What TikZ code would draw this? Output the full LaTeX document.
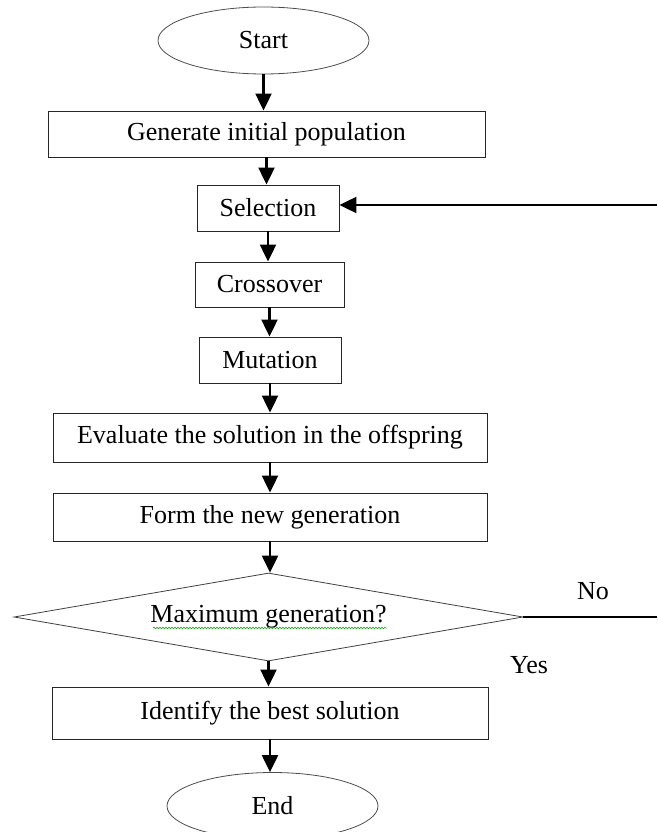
\documentclass[tikz,border=0pt]{standalone}
\usepackage{fontspec}
\setmainfont{Liberation Serif}
\usepackage{tikz}
\usetikzlibrary{shapes.geometric,arrows.meta,decorations.pathmorphing}

\begin{document}
\begin{tikzpicture}[x=1pt,y=-1pt,
    box/.style={draw=black!85, line width=0.9pt, rectangle, inner sep=0pt, font=\fontsize{26}{30}\selectfont},
    oval/.style={draw=black!70, line width=0.8pt, ellipse, inner sep=0pt, minimum width=211pt, minimum height=67pt, font=\fontsize{26}{30}\selectfont},
    arr/.style={-{Triangle[length=17pt,width=16pt]}, line width=2.2pt}]
    \useasboundingbox (0,0) rectangle (657,832);

    \node[oval] (start) at (263.5,40.5) {Start};
    \node[box, minimum width=437pt, minimum height=46pt] (gen) at (266.5,134) {Generate initial population};
    \node[box, minimum width=142pt, minimum height=46pt] (sel) at (268,208) {Selection};
    \node[box, minimum width=149pt, minimum height=45pt] (cross) at (269.5,284.5) {Crossover};
    \node[box, minimum width=142pt, minimum height=46pt] (mut) at (270,360) {Mutation};
    \node[box, minimum width=434pt, minimum height=49pt] (eval) at (270,437.5) {Evaluate the solution in the offspring};
    \node[box, minimum width=434pt, minimum height=48pt] (form) at (270,517) {Form the new generation};
    \node[draw=black!75, line width=0.8pt, diamond, inner sep=0pt, aspect=5.8,
          minimum width=509pt, minimum height=88pt, font=\fontsize{26}{30}\selectfont] (max) at (268.5,617) {Maximum generation?};
    \node[box, minimum width=436pt, minimum height=52pt] (best) at (270,713) {Identify the best solution};
    \node[oval] (end) at (272.5,806) {End};

    % spelling squiggle under the question
    \draw[green!60!black, line width=0.5pt, decorate, decoration={snake, amplitude=0.9pt, segment length=3pt}]
        (153,628) -- (387,628);

    \draw[arr] (start.south) -- (start.south |- gen.north);
    \draw[arr] (gen.south) -- (gen.south |- sel.north);
    \draw[arr] (sel.south) -- (sel.south |- cross.north);
    \draw[arr] (cross.south) -- (cross.south |- mut.north);
    \draw[arr] (mut.south) -- (mut.south |- eval.north);
    \draw[arr] (eval.south) -- (eval.south |- form.north);
    \draw[arr] (form.south) -- (form.south |- max.north);
    \draw[arr] (max.south) -- (max.south |- best.north);
    \draw[arr] (best.south) -- (best.south |- end.north);

    % loop back, its vertical run is off the picture
    \coordinate (back) at (657,205);
    \coordinate (noend) at (657,617);
    \draw[line width=1.6pt] (max.east) -- (noend);
    \draw[arr] (back) -- (back -| sel.east);
    \node[font=\fontsize{26}{30}\selectfont] (no) at (593,591) {No};
    \node[font=\fontsize{26}{30}\selectfont] (yes) at (529,665) {Yes};
\end{tikzpicture}
\end{document}
